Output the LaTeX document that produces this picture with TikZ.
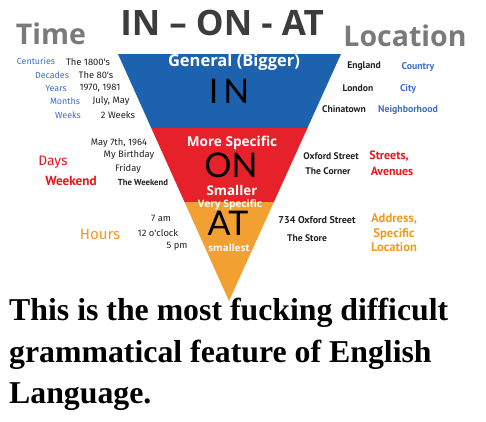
\documentclass[tikz,border=0pt]{standalone}
\usetikzlibrary{calc}
\usepackage{fontspec}
\setmainfont{Liberation Serif}
\newfontfamily\titlefont{Open Sans}
\newfontfamily\handfont{Fira Sans}
\newfontfamily\boldfont{PT Sans}
\newfontfamily\thinfont{Lato}
\definecolor{bandblue}{HTML}{1D62AE}
\definecolor{bandred}{HTML}{E6212A}
\definecolor{bandorange}{HTML}{F1A031}
\definecolor{txtblue}{HTML}{3C6FC8}
\definecolor{txtgray}{HTML}{7A7A7A}
\definecolor{titlegray}{HTML}{3C3C3C}
\definecolor{txtred}{HTML}{E8141C}
\definecolor{txtorange}{HTML}{F39A1E}
\definecolor{txtdark}{HTML}{222222}
\tikzset{
  hb/.style={inner sep=0pt, font=\handfont\fontsize{8.9}{9}\selectfont, text=txtblue},
  hk/.style={inner sep=0pt, font=\handfont\fontsize{9.4}{10}\selectfont, text=txtdark},
  rk/.style={inner sep=0pt, font=\boldfont\bfseries\fontsize{9.6}{10}\selectfont, text=txtdark},
  rb/.style={inner sep=0pt, font=\boldfont\bfseries\fontsize{9.8}{10}\selectfont, text=txtblue},
  band/.style={inner sep=0pt, font=\titlefont\bfseries\fontsize{10.2}{11}\selectfont, text=white},
  big/.style={inner sep=0pt, text height=24pt, text depth=0pt, font=\thinfont\fontsize{34}{35}\selectfont, text=black},
  side/.style={inner sep=0pt, font=\titlefont\bfseries\fontsize{28.5}{30}\selectfont, text=txtgray},
  capline/.style={inner sep=0pt, anchor=west, font=\bfseries\fontsize{31.8}{34}\selectfont, text=black},
}
\begin{document}
\begin{tikzpicture}[x=1pt,y=-1pt]
\useasboundingbox (0,0) rectangle (486,421);
% triangle bands
\coordinate (tl) at (118,54);
\coordinate (tr) at (341,54);
\coordinate (ap) at (229,301);
\fill[bandblue] (tl) -- (tr) -- ($(tr)!0.3!(ap)$) -- ($(tl)!0.3!(ap)$) -- cycle;
\fill[bandred] ($(tl)!0.3!(ap)$) -- ($(tr)!0.3!(ap)$) -- ($(tr)!0.6!(ap)$) -- ($(tl)!0.6!(ap)$) -- cycle;
\fill[bandorange] ($(tl)!0.6!(ap)$) -- ($(tr)!0.6!(ap)$) -- (ap) -- cycle;
% titles
\node[inner sep=0pt, font=\titlefont\bfseries\fontsize{35}{36}\selectfont, text=titlegray] (title) at (222,23) {IN – ON - AT};
\node[side] (time) at (51,34) {Time};
\node[side] (loc) at (405,36) {Location};
% band texts
\node[band, font=\titlefont\bfseries\fontsize{16.5}{17}\selectfont] (gen) at (234,62) {General (Bigger)};
\node[big] (in) at (229,91) {I\hspace{5pt}N};
\node[band, font=\titlefont\bfseries\fontsize{13.6}{14}\selectfont] (more) at (232,143) {More Specific};
\node[big] (on) at (231,165.5) {ON};
\node[band, font=\titlefont\bfseries\fontsize{13.4}{14}\selectfont] (smaller) at (232,190) {Smaller};
\node[band] (very) at (230,205) {Very Specific};
\node[big] (at) at (228,223.5) {AT};
\node[band, font=\titlefont\bfseries\fontsize{9.8}{10}\selectfont] (smallest) at (229,247.5) {smallest};
% left time column
\node[hb] (cent) at (36,61) {Centuries};
\node[hb] (dec) at (52,75) {Decades};
\node[hb] (yrs) at (56,88) {Years};
\node[hb] (mon) at (65,101) {Months};
\node[hb] (wks) at (68,115) {Weeks};
\node[hk] (e1800) at (88,62) {The 1800's};
\node[hk] (e80) at (96,75) {The 80's};
\node[hk] (e1970) at (100,88) {1970, 1981};
\node[hk] (ejuly) at (111,101) {July, May};
\node[hk] (e2w) at (118,115) {2 Weeks};
% right location column
\node[rk] (eng) at (364,66) {England};
\node[rk] (lon) at (358,88) {London};
\node[rk] (chi) at (344,109) {Chinatown};
\node[rb] (country) at (418,67) {Country};
\node[rb] (city) at (408,89) {City};
\node[rb] (neigh) at (408,110) {Neighborhood};
% red band examples
\node[hk] (may) at (119,143) {May 7th, 1964};
\node[hk] (bday) at (129,155) {My Birthday};
\node[hk] (fri) at (128,169) {Friday};
\node[rk, font=\boldfont\bfseries\fontsize{8.7}{9}\selectfont] (twk) at (143,183) {The Weekend};
\node[inner sep=0pt, font=\handfont\fontsize{13.8}{14}\selectfont, text=txtred] (days) at (53,162) {Days};
\node[inner sep=0pt, font=\boldfont\bfseries\fontsize{13.2}{14}\selectfont, text=txtred] (wknd) at (71,181) {Weekend};
\node[rk] (oxf) at (331,156) {Oxford Street};
\node[rk] (corner) at (328,171) {The Corner};
\node[inner sep=0pt, font=\boldfont\bfseries\fontsize{12}{13}\selectfont, text=txtred] (streets) at (389,156) {Streets,};
\node[inner sep=0pt, font=\boldfont\bfseries\fontsize{12}{13}\selectfont, text=txtred] (aven) at (392,171) {Avenues};
% orange band examples
\node[hk] (am7) at (161,218) {7 am};
\node[hk] (oclock) at (158,233) {12 o'clock};
\node[hk] (pm5) at (177,246) {5 pm};
\node[inner sep=0pt, font=\handfont\fontsize{15}{16}\selectfont, text=txtorange] (hours) at (100,234) {Hours};
\node[rk, font=\boldfont\bfseries\fontsize{10}{11}\selectfont] (addr734) at (317,220) {734 Oxford Street};
\node[rk] (store) at (307,238) {The Store};
\node[inner sep=0pt, align=center, font=\boldfont\bfseries\fontsize{12.6}{14.5}\selectfont, text=txtorange] (addr) at (394,233) {Address,\\Specific\\Location};
% caption
\node[capline] (l1) at (9,313) {This is the most fucking difficult};
\node[capline] (l2) at (9,355) {grammatical feature of English};
\node[capline] (l3) at (9,397) {Language.};
\end{tikzpicture}
\end{document}
